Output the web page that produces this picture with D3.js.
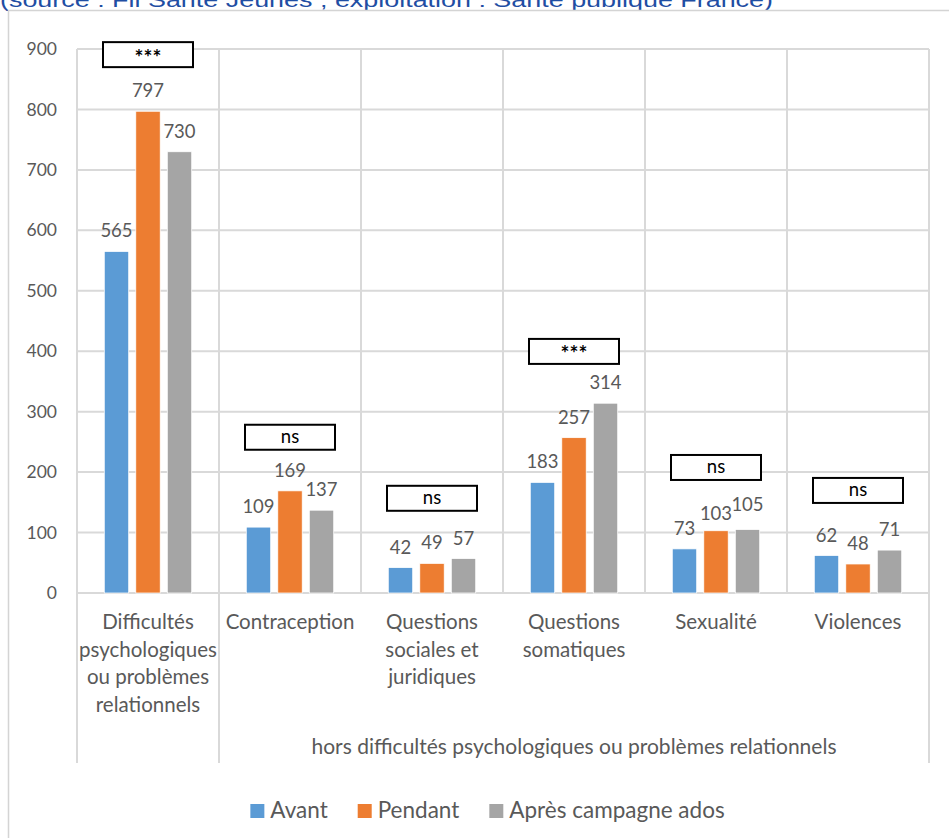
<!DOCTYPE html>
<html>
<head>
<meta charset="utf-8">
<script src="https://cdn.jsdelivr.net/npm/d3@7"></script>
<style>
  html, body { margin: 0; padding: 0; background: #fff; }
  svg { display: block; }
  text { font-family: Lato, "Open Sans", sans-serif; }
</style>
</head>
<body>
<svg id="chart" width="949" height="838"></svg>
<script>
// Appels par thème, avant / pendant / après la campagne ados
const categories = [
  "Difficultés psychologiques ou problèmes relationnels",
  "Contraception",
  "Questions sociales et juridiques",
  "Questions somatiques",
  "Sexualité",
  "Violences"
];
const categoryLines = [
  ["Difficultés", "psychologiques", "ou problèmes", "relationnels"],
  ["Contraception"],
  ["Questions", "sociales et", "juridiques"],
  ["Questions", "somatiques"],
  ["Sexualité"],
  ["Violences"]
];
const series = ["Avant", "Pendant", "Après campagne ados"];
const avant   = [565, 109, 42, 183, 73, 62];
const pendant = [797, 169, 49, 257, 103, 48];
const apres   = [730, 137, 57, 314, 105, 71];
const significance = ["***", "ns", "ns", "***", "ns", "ns"];
// level (in call counts) of the lower edge of each significance box
const significanceLevel = [870, 237, 136, 379, 187, 149];
const yTicks = [0, 100, 200, 300, 400, 500, 600, 700, 800, 900];
const groupLabel = "hors difficultés psychologiques ou problèmes relationnels";
const sourceText = "(source : Fil Santé Jeunes ; exploitation : Santé publique France)";

const colors = ["#5b9bd5", "#ed7d31", "#a5a5a5"];
const values = [avant, pendant, apres];
const gridColor = "#d9d9d9";
const textColor = "#595959";

// small vertical nudges for labels that would collide
const labelNudge = { "4-1": 3, "4-2": -5 };

const svg = d3.select("#chart");
const margin = { left: 77, right: 929, top: 49, bottom: 593 };

const x0 = d3.scaleBand().domain(categories).range([margin.left, margin.right]).padding(0);
const x1 = d3.scaleBand().domain(series).range([0, x0.bandwidth()])
  .paddingInner(0.225).paddingOuter(0.866);
const y = d3.scaleLinear().domain([0, 900]).range([margin.bottom, margin.top]);

// source line (partly cut off at the top)
svg.append("text")
  .attr("x", 0).attr("y", 7)
  .attr("fill", "#1f4ea3")
  .style("font-family", "'Liberation Sans', Arial, sans-serif")
  .style("font-size", "21px")
  .attr("textLength", 773).attr("lengthAdjust", "spacingAndGlyphs")
  .text(sourceText);

// chart frame
svg.append("path")
  .attr("d", "M8.5,838 V10.5 H949")
  .attr("fill", "none").attr("stroke", "#d4d4d4").attr("stroke-width", 1.5);

// horizontal gridlines
svg.append("g").selectAll("line").data(yTicks).join("line")
  .attr("x1", margin.left).attr("x2", margin.right)
  .attr("y1", d => y(d)).attr("y2", d => y(d))
  .attr("stroke", gridColor).attr("stroke-width", 2);

// vertical separators between categories
const boundaries = categories.map(c => x0(c)).concat([margin.right]);
svg.append("g").selectAll("line").data(boundaries).join("line")
  .attr("x1", d => d).attr("x2", d => d)
  .attr("y1", y(900))
  .attr("y2", (d, i) => (i === 0 || i === 1 || i === boundaries.length - 1) ? 763 : y(0))
  .attr("stroke", gridColor).attr("stroke-width", 2);

// y axis labels
const yAxis = d3.axisLeft(y).tickValues(yTicks).tickSize(0).tickPadding(20);
const gy = svg.append("g").attr("transform", `translate(${margin.left},0)`).call(yAxis);
gy.select(".domain").remove();
gy.selectAll("text")
  .attr("fill", textColor)
  .style("font-family", "Lato, sans-serif")
  .style("font-size", "17.5px");

// bars
const flat = [];
categories.forEach((c, i) => series.forEach((s, j) => flat.push({ c, i, s, j, v: values[j][i] })));

svg.append("g").selectAll("rect").data(flat).join("rect")
  .attr("x", d => x0(d.c) + x1(d.s))
  .attr("y", d => y(d.v))
  .attr("width", x1.bandwidth())
  .attr("height", d => y(0) - y(d.v))
  .attr("fill", d => colors[d.j])
  .attr("stroke", "#fff").attr("stroke-width", 0.75);

// value labels
svg.append("g").selectAll("text").data(flat).join("text")
  .attr("x", d => x0(d.c) + x1(d.s) + x1.bandwidth() / 2)
  .attr("y", d => y(d.v) - 14 + (labelNudge[d.i + "-" + d.j] || 0))
  .attr("text-anchor", "middle")
  .attr("fill", textColor)
  .style("font-size", "18.5px")
  .text(d => d.v);

// significance boxes
const sig = svg.append("g").selectAll("g").data(categories).join("g");
const boxW = 90, boxH = 25;
sig.append("rect")
  .attr("x", c => x0(c) + x0.bandwidth() / 2 - boxW / 2)
  .attr("y", (c, i) => y(significanceLevel[i]) - boxH)
  .attr("width", boxW).attr("height", boxH)
  .attr("fill", "#fff").attr("stroke", "#000").attr("stroke-width", 2);
sig.append("text")
  .attr("x", c => x0(c) + x0.bandwidth() / 2)
  .attr("y", (c, i) => y(significanceLevel[i]) - boxH / 2 + (significance[i] === "***" ? 10 : 6))
  .attr("text-anchor", "middle")
  .attr("fill", "#000")
  .style("font-size", (c, i) => significance[i] === "***" ? "21px" : "18.5px")
  .style("font-weight", (c, i) => significance[i] === "***" ? "bold" : "normal")
  .text((c, i) => significance[i]);

// category labels
const lineH = 27.5;
svg.append("g").selectAll("text").data(categories).join("text")
  .attr("x", c => x0(c) + x0.bandwidth() / 2)
  .attr("y", 629)
  .attr("text-anchor", "middle")
  .attr("fill", textColor)
  .style("font-size", "20.5px")
  .each(function (c, i) {
    d3.select(this).selectAll("tspan").data(categoryLines[i]).join("tspan")
      .attr("x", x0(c) + x0.bandwidth() / 2)
      .attr("dy", (d, k) => k === 0 ? 0 : lineH)
      .text(d => d);
  });

// group label under the five other themes
svg.append("text")
  .attr("x", (x0(categories[1]) + margin.right) / 2)
  .attr("y", 754)
  .attr("text-anchor", "middle")
  .attr("fill", textColor)
  .style("font-size", "21px")
  .text(groupLabel);

// legend
const legend = svg.append("g");
let cursor = 0;
series.forEach((s, j) => {
  const item = legend.append("g").attr("transform", `translate(${cursor},0)`);
  item.append("rect").attr("x", 0).attr("y", -14).attr("width", 14).attr("height", 14)
    .attr("fill", colors[j]);
  const t = item.append("text").attr("x", 20).attr("y", 0)
    .attr("fill", textColor).style("font-size", "22.5px").text(s);
  cursor += 20 + t.node().getComputedTextLength() + 30;
});
const legendWidth = cursor - 30;
legend.attr("transform", `translate(${487.5 - legendWidth / 2},818)`);
</script>
</body>
</html>
